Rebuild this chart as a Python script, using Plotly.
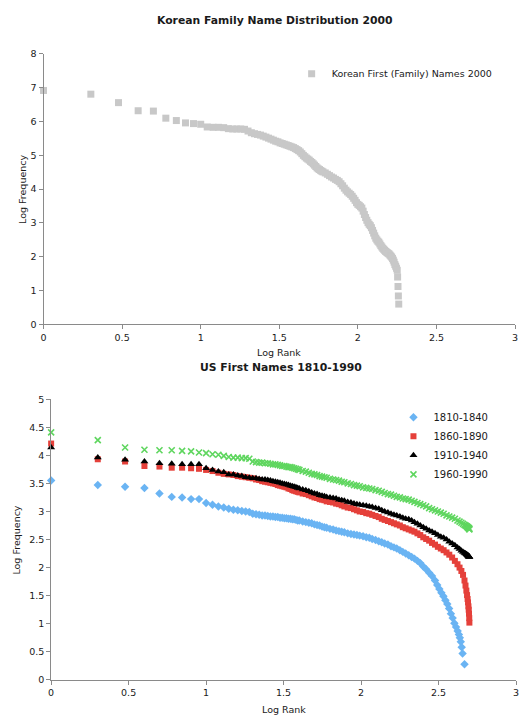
import math
import plotly.graph_objects as go

W, H = 522, 721

# ---------------- Data: Korean family names (top chart) ----------------
korean_ranks = list(range(1, 61)) + list(range(62, 179, 2)) + [179, 180, 181, 182]
korean_log_freq = [
    6.92, 6.81, 6.56, 6.32, 6.31, 6.10, 6.03, 5.96, 5.94, 5.92,
    5.84, 5.83, 5.83, 5.82, 5.79, 5.78, 5.78, 5.78, 5.77, 5.72,
    5.67, 5.64, 5.62, 5.60, 5.57, 5.54, 5.51, 5.48, 5.45, 5.42,
    5.40, 5.37, 5.35, 5.33, 5.31, 5.29, 5.27, 5.25, 5.23, 5.20,
    5.17, 5.14, 5.10, 5.05, 5.00, 4.96, 4.92, 4.89, 4.86, 4.82,
    4.79, 4.75, 4.71, 4.67, 4.63, 4.60, 4.58, 4.55, 4.53, 4.51,
    # ranks 62..178 step 2
    4.48, 4.44, 4.40, 4.36, 4.33, 4.29, 4.26, 4.22, 4.16, 4.10,
    4.03, 3.97, 3.92, 3.88, 3.84, 3.79, 3.73, 3.67, 3.60, 3.55,
    3.52, 3.48, 3.44, 3.35, 3.25, 3.16, 3.08, 3.01, 2.96, 2.92,
    2.86, 2.78, 2.70, 2.62, 2.55, 2.50, 2.46, 2.43, 2.38, 2.33,
    2.29, 2.25, 2.22, 2.19, 2.16, 2.14, 2.12, 2.10, 2.08, 2.05,
    2.02, 1.99, 1.95, 1.90, 1.84, 1.77, 1.72, 1.66, 1.60,
    # ranks 179..182
    1.40, 1.12, 0.84, 0.60,
]

# ---------------- Data: US first names (bottom chart) ----------------
us_ranks = list(range(1, 41)) + [
    42, 44, 46, 48, 50, 52, 54, 56, 58, 60,
    63, 66, 69, 72, 75, 78, 82, 86, 90, 94, 98,
    103, 108, 113, 118, 124, 130, 136, 142,
    149, 156, 163, 170, 178,
    186, 194, 203, 212, 221,
    231, 241, 252, 263, 275, 287,
    300, 313, 327, 341, 356, 371, 387,
    403, 419, 432, 444, 455, 465,
    472, 478, 483, 487, 490, 493, 495, 497, 499, 500,
]

us_1960_1990 = [
    4.41, 4.27, 4.14, 4.10, 4.09, 4.09, 4.08, 4.07, 4.05, 4.04,
    4.02, 4.01, 3.99, 3.97, 3.96, 3.96, 3.95, 3.95, 3.94, 3.89,
    3.88, 3.87, 3.87, 3.86, 3.86, 3.85, 3.84, 3.84, 3.83, 3.82,
    3.81, 3.81, 3.80, 3.79, 3.79, 3.78, 3.77, 3.76, 3.75, 3.74,
    3.72, 3.71, 3.69, 3.67, 3.66, 3.65, 3.63, 3.62, 3.61, 3.60,
    3.58, 3.57, 3.56, 3.55, 3.53, 3.52, 3.50, 3.49, 3.47, 3.46, 3.45,
    3.43, 3.42, 3.41, 3.40, 3.38, 3.37, 3.35, 3.33,
    3.31, 3.30, 3.28, 3.26, 3.25,
    3.23, 3.22, 3.21, 3.19, 3.17,
    3.15, 3.13, 3.11, 3.09, 3.06, 3.04,
    3.02, 3.00, 2.98, 2.96, 2.93, 2.91, 2.89,
    2.87, 2.84, 2.82, 2.80, 2.78, 2.76,
    2.75, 2.74, 2.73, 2.72, 2.71, 2.71, 2.70, 2.70, 2.69, 2.68,
]

us_1910_1940 = [
    4.14, 3.96, 3.92, 3.89, 3.86, 3.85, 3.84, 3.84, 3.84, 3.77,
    3.74, 3.71, 3.70, 3.66, 3.66, 3.64, 3.63, 3.61, 3.60, 3.59,
    3.59, 3.58, 3.57, 3.57, 3.56, 3.55, 3.54, 3.53, 3.52, 3.51,
    3.50, 3.49, 3.48, 3.47, 3.46, 3.45, 3.44, 3.43, 3.42, 3.41,
    3.39, 3.38, 3.36, 3.34, 3.32, 3.31, 3.29, 3.28, 3.27, 3.26,
    3.25, 3.24, 3.23, 3.21, 3.20, 3.19, 3.17, 3.16, 3.14, 3.13, 3.12,
    3.11, 3.10, 3.09, 3.08, 3.06, 3.05, 3.02, 3.00,
    2.98, 2.96, 2.94, 2.93, 2.91,
    2.89, 2.87, 2.86, 2.84, 2.81,
    2.78, 2.75, 2.72, 2.69, 2.66, 2.64,
    2.61, 2.58, 2.55, 2.53, 2.50, 2.46, 2.43,
    2.40, 2.36, 2.33, 2.30, 2.28, 2.26,
    2.25, 2.24, 2.23, 2.22, 2.21, 2.21, 2.20, 2.20, 2.19, 2.19,
]

us_1860_1890 = [
    4.21, 3.93, 3.89, 3.81, 3.80, 3.78, 3.78, 3.77, 3.76, 3.74,
    3.72, 3.69, 3.67, 3.66, 3.65, 3.63, 3.62, 3.61, 3.60, 3.59,
    3.57, 3.56, 3.54, 3.53, 3.52, 3.51, 3.50, 3.49, 3.47, 3.46,
    3.45, 3.44, 3.43, 3.41, 3.40, 3.38, 3.37, 3.36, 3.35, 3.34,
    3.32, 3.31, 3.29, 3.27, 3.25, 3.24, 3.22, 3.21, 3.20, 3.18,
    3.17, 3.16, 3.14, 3.13, 3.11, 3.09, 3.07, 3.06, 3.04, 3.02, 3.00,
    2.99, 2.97, 2.96, 2.94, 2.92, 2.90, 2.87, 2.85,
    2.83, 2.81, 2.79, 2.77, 2.75,
    2.72, 2.70, 2.68, 2.66, 2.64,
    2.61, 2.58, 2.54, 2.51, 2.48, 2.44,
    2.41, 2.37, 2.34, 2.31, 2.27, 2.23, 2.18,
    2.12, 2.06, 2.00, 1.94, 1.87, 1.77,
    1.68, 1.59, 1.51, 1.44, 1.38, 1.31, 1.25, 1.18, 1.10, 1.02,
]

us_1810_1840_ranks = list(range(1, 41)) + [
    42, 44, 46, 48, 50, 52, 54, 56, 58, 60,
    63, 66, 69, 72, 75, 78, 82, 86, 90, 94, 98,
    103, 108, 113, 118, 124, 130, 136, 142,
    149, 156, 163, 170, 178,
    186, 194, 203, 212, 221,
    231, 241, 252, 263, 275, 287,
    300, 310, 320, 330, 340, 350, 360, 370, 380, 390,
    400, 410, 420, 428, 434, 440, 446, 452, 465,
]
us_1810_1840 = [
    3.55, 3.47, 3.44, 3.42, 3.32, 3.26, 3.25, 3.22, 3.22, 3.15,
    3.12, 3.09, 3.07, 3.05, 3.03, 3.02, 3.01, 3.00, 2.99, 2.96,
    2.95, 2.94, 2.93, 2.93, 2.92, 2.91, 2.91, 2.90, 2.90, 2.89,
    2.89, 2.88, 2.88, 2.87, 2.87, 2.86, 2.86, 2.85, 2.84, 2.84,
    2.82, 2.81, 2.80, 2.79, 2.77, 2.76, 2.75, 2.73, 2.72, 2.71,
    2.69, 2.68, 2.66, 2.65, 2.64, 2.63, 2.61, 2.60, 2.59, 2.58, 2.57,
    2.56, 2.54, 2.53, 2.51, 2.49, 2.47, 2.45, 2.43,
    2.41, 2.38, 2.36, 2.34, 2.31,
    2.28, 2.25, 2.22, 2.19, 2.16,
    2.12, 2.08, 2.02, 1.97, 1.91, 1.85,
    1.77, 1.69, 1.62, 1.55, 1.49, 1.42, 1.35, 1.27, 1.18, 1.10,
    1.01, 0.94, 0.87, 0.81, 0.75, 0.68, 0.58, 0.47, 0.28,
]

series_names = ["1810-1840", "1860-1890", "1910-1940", "1960-1990"]
titles = ["Korean Family Name Distribution 2000", "US First Names 1810-1990"]
korean_name = "Korean First (Family) Names 2000"


def log_rank(ranks):
    return [math.log10(r) for r in ranks]


def px(x):
    return x / W


def py(y):
    return 1 - y / H


FONT = "DejaVu Sans"
AXIS_GREY = "#8a8a8a"
TEXT = "#1a1a1a"

fig = go.Figure()

fig.add_trace(go.Scatter(
    x=log_rank(korean_ranks), y=korean_log_freq, mode="markers",
    name=korean_name, xaxis="x", yaxis="y", legend="legend",
    cliponaxis=False,
    marker=dict(symbol="square", size=7, color="#c8c8c8"),
))

us_series = [
    (series_names[0], us_1810_1840_ranks, us_1810_1840,
     dict(symbol="diamond", size=6.5, color="#6ab4f3")),
    (series_names[1], us_ranks, us_1860_1890,
     dict(symbol="square", size=6, color="#e5403a")),
    (series_names[2], us_ranks, us_1910_1940,
     dict(symbol="triangle-up", size=7, color="#000000")),
    (series_names[3], us_ranks, us_1960_1990,
     dict(symbol="x-thin", size=6, color="#5fd65f",
          line=dict(color="#5fd65f", width=1.6))),
]
for name, ranks, vals, mk in us_series:
    fig.add_trace(go.Scatter(
        x=log_rank(ranks), y=vals, mode="markers", name=name,
        xaxis="x2", yaxis="y2", legend="legend2", cliponaxis=False,
        marker=mk,
    ))

axis_common = dict(
    showline=True, linecolor=AXIS_GREY, linewidth=1,
    ticks="outside", ticklen=4, tickcolor=AXIS_GREY, tickwidth=1,
    showgrid=False, zeroline=False,
    tickfont=dict(family=FONT, size=9.5, color=TEXT),
)

fig.update_layout(
    width=W, height=H,
    margin=dict(l=0, r=0, t=0, b=0),
    paper_bgcolor="white", plot_bgcolor="white",
    xaxis=dict(domain=[px(41), px(518)], range=[0, 3], dtick=0.5,
               anchor="y", **axis_common),
    yaxis=dict(domain=[py(323.3), py(48.7)], range=[0, 8], dtick=1,
               anchor="x", **axis_common),
    xaxis2=dict(domain=[px(48.7), px(519)], range=[0, 3], dtick=0.5,
                anchor="y2", **axis_common),
    yaxis2=dict(domain=[py(684.3), py(399.3)], range=[0, 5], dtick=0.5,
                anchor="x2", **axis_common),
    legend=dict(x=px(292), y=py(54), xanchor="left", yanchor="top",
                bgcolor="rgba(0,0,0,0)", borderwidth=0,
                font=dict(family=FONT, size=9.5, color=TEXT)),
    legend2=dict(x=px(395), y=py(403), xanchor="left", yanchor="top",
                 bgcolor="rgba(0,0,0,0)", borderwidth=0,
                 font=dict(family=FONT, size=10, color=TEXT)),
    showlegend=True,
)

annos = [
    dict(text="<b>" + titles[0] + "</b>", x=px(275), y=py(15), size=10.8),
    dict(text="<b>" + titles[1] + "</b>", x=px(281), y=py(367), size=10.8),
    dict(text="Log Rank", x=px(279.5), y=py(352), size=9.5),
    dict(text="Log Rank", x=px(284), y=py(714), size=9.5),
    dict(text="Log Frequency", x=px(19), y=py(186), size=9.5, angle=-90),
    dict(text="Log Frequency", x=px(14), y=py(542), size=9.5, angle=-90),
]
for a in annos:
    fig.add_annotation(
        text=a["text"], x=a["x"], y=a["y"], xref="paper", yref="paper",
        xanchor="center", yanchor="middle", showarrow=False,
        textangle=a.get("angle", 0),
        font=dict(family=FONT, size=a["size"], color=TEXT),
    )

fig.write_html(
    "out.html",
    config={"displayModeBar": False},
    post_script="document.body.style.margin='0';"
                "document.body.style.overflow='hidden';",
)
